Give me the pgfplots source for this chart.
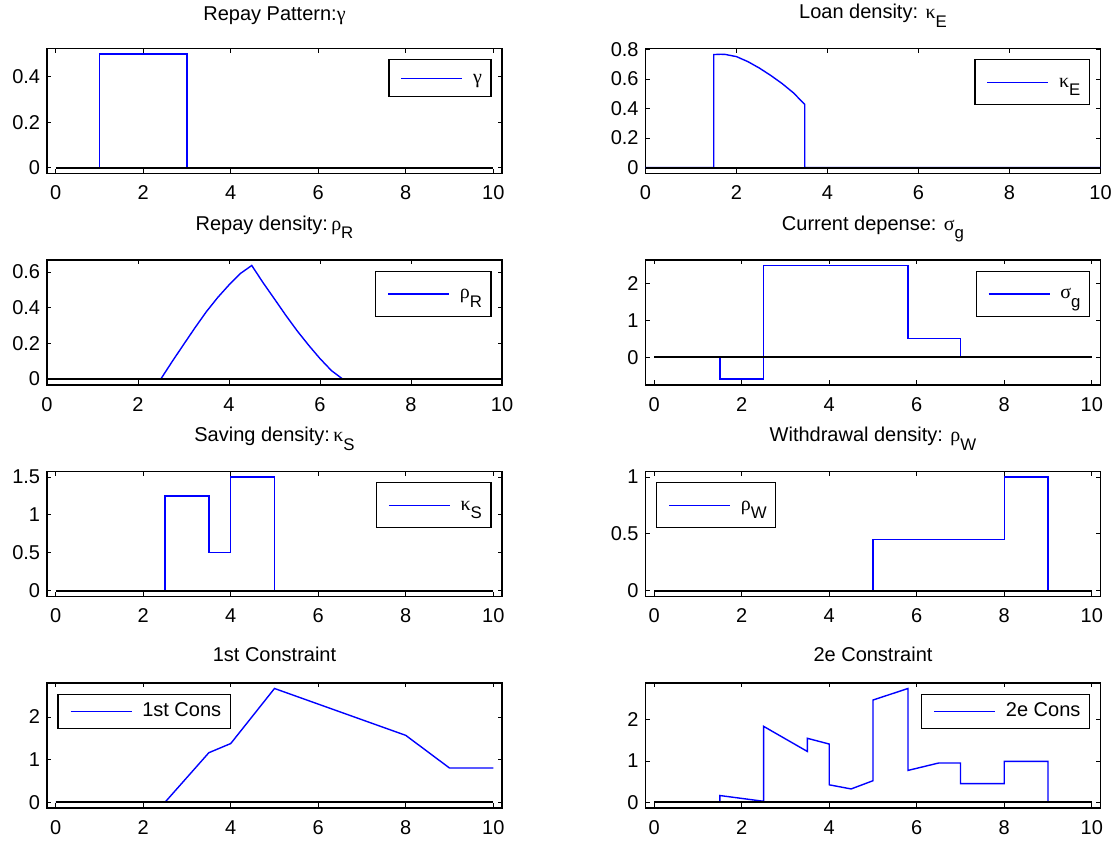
\documentclass[border=0pt]{standalone}
\usepackage{fontspec}
\setmainfont{Liberation Sans}
\newfontfamily\grk{Liberation Serif}
\usepackage{pgfplots}
\pgfplotsset{compat=1.18}

\definecolor{mblue}{RGB}{0,0,255}

% Greek letter in a serif face, subscript set low and small
\newcommand{\g}[1]{{\grk #1}}
\newcommand{\sub}[1]{\raisebox{-0.42em}{\fontsize{8.4}{9}\selectfont #1}}

\pgfplotsset{
  panel/.style={
    scale only axis, width=227.5pt, height=62.5pt,
    anchor=south west,
    axis line style={line width=0.75pt, black},
    tick align=inside, major tick length=2.2pt,
    tick style={line width=0.4pt, black},
    xtick={0,2,...,10},
    xmin=-0.2, xmax=10.2,
    font=\fontsize{10}{12}\selectfont,
    /pgf/number format/assume math mode=true,
    xticklabel style={inner sep=0pt, anchor=north, yshift=-6.15pt},
    yticklabel style={inner sep=0pt, anchor=east, xshift=-3.25pt},
    title style={at={(0.5,1)}, anchor=base, yshift=7.65pt, inner sep=0pt},
    legend style={draw=black, line width=0.6pt, fill=white,
      inner xsep=4.5pt, inner ysep=4.2pt,
      nodes={inner sep=0pt, text height=7.5pt, text depth=2.5pt},
      cells={anchor=west},
      at={(0.977,0.912)}, anchor=north east},
    legend image code/.code={%
      \path[draw=none] (0pt,0pt) -- (37.6pt,0pt);
      \draw[#1, draw=mblue] (1.75pt,0pt) -- (32.25pt,0pt);},
  },
  subtitle/.style={title style={yshift=1pt}},
  lowtitle/.style={title style={yshift=-3pt}},
  sublegend/.style={legend style={nodes={text height=9.6pt, text depth=4.5pt}}},
  leftlegend/.style={legend style={at={(0.023,0.912)}, anchor=north west}},
  curve/.style={draw=mblue, line width=0.7pt},
  zero/.style={draw=black, line width=1pt, forget plot},
}

\begin{document}
\begin{tikzpicture}
\useasboundingbox (0,0) rectangle (559.5pt,420.5pt);

% ---- row 1, left: repay pattern
\begin{axis}[panel, at={(23.5pt,333.85pt)},
  ymin=-0.025, ymax=0.525, ytick={0,0.2,0.4},
  title={Repay Pattern:\g{γ}}]
\addplot[curve] coordinates {(0,0) (1,0) (1,0.5) (3,0.5) (3,0) (10,0)};
\addlegendentry{\g{γ}}
\addplot[zero] coordinates {(0,0) (10,0)};
\end{axis}

% ---- row 1, right: loan density
\begin{axis}[panel, subtitle, sublegend, at={(322.75pt,333.85pt)},
  xmin=0, xmax=10,
  ymin=-0.0385, ymax=0.8085, ytick={0,0.2,0.4,0.6,0.8},
  title={Loan density: \g{κ}\sub{E}}]
\addplot[curve] coordinates {(0,0) (1.5,0) (1.5,0.766) (1.65,0.768) (1.75,0.767)
  (2.0,0.752) (2.25,0.718) (2.5,0.675) (2.75,0.625) (3.0,0.570) (3.25,0.507)
  (3.5,0.428) (3.5,0) (10,0)};
\addlegendentry{\g{κ}\sub{E}}
\addplot[zero] coordinates {(0,0) (10,0)};
\end{axis}

% ---- row 2, left: repay density
\begin{axis}[panel, subtitle, sublegend, at={(23.5pt,228.1pt)},
  xmin=0, xmax=10,
  ymin=-0.0319, ymax=0.6689, ytick={0,0.2,0.4,0.6},
  title={Repay density:\,\g{ρ}\sub{R}}]
\addplot[curve] coordinates {(0,0) (2.5,0) (2.75,0.098) (3.0,0.193) (3.25,0.287)
  (3.5,0.377) (3.75,0.457) (4.0,0.528) (4.25,0.592) (4.5,0.637) (4.75,0.540)
  (5.0,0.449) (5.25,0.357) (5.5,0.270) (5.75,0.190) (6.0,0.115) (6.25,0.048)
  (6.5,0) (10,0)};
\addlegendentry{\g{ρ}\sub{R}}
\addplot[zero] coordinates {(0,0) (10,0)};
\end{axis}

% ---- row 2, right: current expense
\begin{axis}[panel, subtitle, sublegend, at={(322.75pt,228.1pt)},
  ymin=-0.755, ymax=2.655, ytick={0,1,2},
  title={Current depense: \g{σ}\sub{g}}]
\addplot[curve] coordinates {(0,0) (1.5,0) (1.5,-0.6) (2.5,-0.6) (2.5,2.5)
  (5.8,2.5) (5.8,0.5) (7,0.5) (7,0) (10,0)};
\addlegendentry{\g{σ}\sub{g}}
\addplot[zero] coordinates {(0,0) (10,0)};
\end{axis}

% ---- row 3, left: saving density
\begin{axis}[panel, subtitle, sublegend, at={(23.5pt,122.35pt)},
  ymin=-0.075, ymax=1.575, ytick={0,0.5,1,1.5},
  title={Saving density:\,\g{κ}\sub{S}}]
\addplot[curve] coordinates {(0,0) (2.5,0) (2.5,1.25) (3.5,1.25) (3.5,0.5)
  (4,0.5) (4,1.5) (5,1.5) (5,0) (10,0)};
\addlegendentry{\g{κ}\sub{S}}
\addplot[zero] coordinates {(0,0) (10,0)};
\end{axis}

% ---- row 3, right: withdrawal density
\begin{axis}[panel, subtitle, sublegend, leftlegend, at={(322.75pt,122.35pt)},
  ymin=-0.05, ymax=1.05, ytick={0,0.5,1},
  title={Withdrawal density: \g{ρ}\sub{W}}]
\addplot[curve] coordinates {(0,0) (5,0) (5,0.45) (8,0.45) (8,1) (9,1) (9,0) (10,0)};
\addlegendentry{\g{ρ}\sub{W}}
\addplot[zero] coordinates {(0,0) (10,0)};
\end{axis}

% ---- row 4, left: first constraint
\begin{axis}[panel, lowtitle, leftlegend, at={(23.5pt,16.6pt)},
  legend style={inner ysep=3.5pt},
  ymin=-0.1333, ymax=2.8003, ytick={0,1,2},
  title={1st Constraint}]
\addplot[curve] coordinates {(0,0) (2.5,0) (3.5,1.16) (4,1.375) (5,2.667)
  (8,1.567) (9,0.8) (10,0.8)};
\addlegendentry{1st Cons}
\addplot[zero] coordinates {(0,0) (10,0)};
\end{axis}

% ---- row 4, right: second constraint
\begin{axis}[panel, lowtitle, at={(322.75pt,16.6pt)},
  legend style={inner ysep=3.5pt},
  ymin=-0.138, ymax=2.898, ytick={0,1,2},
  title={2e Constraint}]
\addplot[curve] coordinates {(0,0) (1.5,0) (1.5,0.16) (2.5,0.02) (2.5,1.84)
  (3.5,1.23) (3.5,1.55) (4,1.41) (4,0.42) (4.5,0.32) (5,0.52) (5,2.48)
  (5.8,2.76) (5.8,0.77) (6.5,0.95) (7,0.95) (7,0.45) (8,0.45) (8,0.99)
  (9,0.99) (9,0) (10,0)};
\addlegendentry{2e Cons}
\addplot[zero] coordinates {(0,0) (10,0)};
\end{axis}
\end{tikzpicture}
\end{document}
